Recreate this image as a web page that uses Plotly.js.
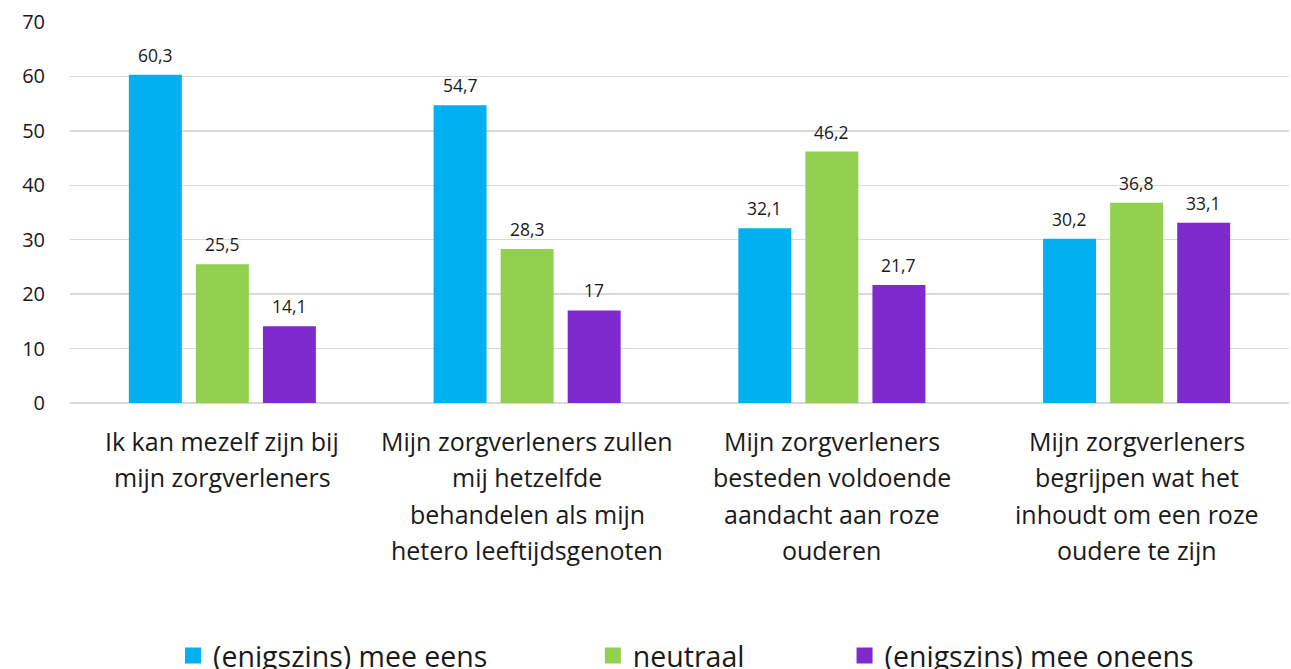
<!DOCTYPE html>
<html>
<head>
<meta charset="utf-8">
<script src="https://cdn.plot.ly/plotly-3.0.1.min.js"></script>
<style>html,body{margin:0;padding:0;background:#fff;}#chart{width:1291px;height:669px;}</style>
</head>
<body>
<div id="chart"></div>
<script>
var categories = [
  "Ik kan mezelf zijn bij<br>mijn zorgverleners",
  "Mijn zorgverleners zullen<br>mij hetzelfde<br>behandelen als mijn<br>hetero leeftijdsgenoten",
  "Mijn zorgverleners<br>besteden voldoende<br>aandacht aan roze<br>ouderen",
  "Mijn zorgverleners<br>begrijpen wat het<br>inhoudt om een roze<br>oudere te zijn"
];
var seriesNames = ["(enigszins) mee eens", "neutraal", "(enigszins) mee oneens"];
var eens = [60.3, 54.7, 32.1, 30.2];
var neutraal = [25.5, 28.3, 46.2, 36.8];
var oneens = [14.1, 17, 21.7, 33.1];
var colors = ["#00B0F0", "#92D050", "#7E2ACF"];
var yTicks = [0, 10, 20, 30, 40, 50, 60, 70];

var FONT = "'Open Sans', Lato, sans-serif";
var BARGAP = 0.34;
var values = [eens, neutraal, oneens];
var catIdx = categories.map(function(c, i){ return i; });
var slot = (1 - BARGAP) / values.length;

var traces = [];
var annotations = [];
values.forEach(function(vals, s){
  traces.push({
    type: 'bar',
    x: catIdx,
    y: vals,
    name: seriesNames[s],
    marker: {color: colors[s]},
    showlegend: false,
    hoverinfo: 'skip'
  });
  vals.forEach(function(v, i){
    annotations.push({
      x: i + (s - (values.length - 1) / 2) * slot, y: v,
      xref: 'x', yref: 'y',
      text: String(v).replace('.', ','), showarrow: false,
      xanchor: 'center', yanchor: 'middle', yshift: 20,
      font: {family: FONT, size: 17.5, color: '#1a1a1a'}
    });
  });
});
var legendIds = ['legend', 'legend2', 'legend3'];
seriesNames.forEach(function(n, s){
  traces.push({
    type: 'scatter', mode: 'markers',
    x: [null], y: [null],
    name: n,
    marker: {symbol: 'square', size: 20, color: colors[s]},
    legend: legendIds[s],
    showlegend: true
  });
});

categories.forEach(function(c, i){
  c.split('<br>').forEach(function(line, j){
    annotations.push({
      x: i, y: 0, xref: 'x', yref: 'y',
      text: line, showarrow: false,
      xanchor: 'center', yanchor: 'middle',
      yshift: -(38 + j * 36.3),
      font: {family: FONT, size: 25, color: '#1a1a1a'}
    });
  });
});

function legendDef(x){
  return {
    x: x, y: -0.664, xanchor: 'left', yanchor: 'middle',
    orientation: 'h', bgcolor: 'rgba(0,0,0,0)',
    font: {family: FONT, size: 28.5, color: '#1a1a1a'},
    itemclick: false
  };
}

var layout = {
  width: 1291, height: 669,
  margin: {l: 70, r: 2, t: 22, b: 266, autoexpand: false},
  paper_bgcolor: '#fff', plot_bgcolor: '#fff',
  barmode: 'group',
  bargap: BARGAP,
  bargroupgap: 0.21,
  showlegend: true,
  xaxis: {
    range: [-0.5, 3.5],
    tickvals: catIdx,
    showticklabels: false,
    showgrid: false, zeroline: false, showline: false, ticks: ''
  },
  yaxis: {
    range: [0, 70],
    tickvals: yTicks,
    ticktext: yTicks.map(String),
    showgrid: true, gridcolor: '#D9D9D9', gridwidth: 1.5,
    zeroline: true, zerolinecolor: '#D9D9D9', zerolinewidth: 1.5,
    showline: false, ticks: '',
    ticklabelstandoff: 24,
    tickfont: {family: FONT, size: 20, color: '#1a1a1a'}
  },
  legend: legendDef(0.0845),
  legend2: legendDef(0.4289),
  legend3: legendDef(0.6354),
  annotations: annotations
};

Plotly.newPlot('chart', traces, layout, {displayModeBar: false, staticPlot: true});
</script>
</body>
</html>
